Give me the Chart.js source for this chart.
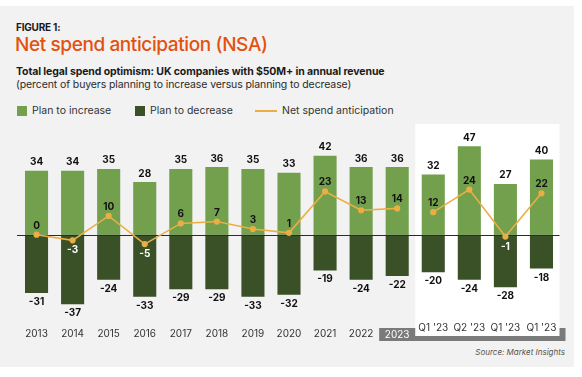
<!DOCTYPE html>
<html>
<head>
<meta charset="utf-8">
<script src="https://cdn.jsdelivr.net/npm/chart.js@4.4.1/dist/chart.umd.min.js"></script>
<style>
  html, body { margin:0; padding:0; background:#fff; }
  body { width:582px; height:377px; position:relative; overflow:hidden; font-family: Inter, "Noto Sans", sans-serif; }
  .panel { position:absolute; left:0; top:6px; width:574px; height:361px; background:#f2f2f2; }
  .fig { position:absolute; left:16px; top:21px; font-size:10px; font-weight:700; color:#1a1a1a; letter-spacing:-0.2px; }
  .title { position:absolute; left:15px; top:33px; font-size:19px; font-weight:500; color:#e2520f; letter-spacing:-0.4px; }
  .sub1 { position:absolute; left:16px; top:65px; font-size:10.5px; font-weight:700; color:#1a1a1a; letter-spacing:-0.1px; }
  .sub2 { position:absolute; left:16px; top:78px; font-size:10.5px; color:#2a2a2a; letter-spacing:-0.1px; }
  .leg { position:absolute; top:104px; font-size:10.5px; color:#333; display:flex; align-items:center; }
  .sw { width:10px; height:10px; margin-right:5px; }
  .ln { width:22px; height:2px; background:#ebae45; margin-right:5px; }
  .src { position:absolute; right:17px; top:347px; font-size:8px; font-style:italic; color:#555; }
  canvas { position:absolute; left:0; top:0; }
</style>
</head>
<body>
<div class="panel"></div>
<div class="fig">FIGURE 1:</div>
<div class="title">Net spend anticipation (NSA)</div>
<div class="sub1">Total legal spend optimism: UK companies with $50M+ in annual revenue</div>
<div class="sub2">(percent of buyers planning to increase versus planning to decrease)</div>
<div class="leg" style="left:17px"><div class="sw" style="background:#72a04d"></div>Plan to increase</div>
<div class="leg" style="left:135px"><div class="sw" style="background:#3a5128"></div>Plan to decrease</div>
<div class="leg" style="left:255px"><div class="ln"></div>Net spend anticipation</div>
<div class="src">Source: Market Insights</div>
<canvas id="c" width="582" height="377"></canvas>
<script>
const labels = ['2013','2014','2015','2016','2017','2018','2019','2020','2021','2022','2023',"Q1 '23","Q2 '23","Q1 '23","Q1 '23"];
const increase = [34,34,35,28,35,36,35,33,42,36,36,32,47,27,40];
const decrease = [-31,-37,-24,-33,-29,-29,-33,-32,-19,-24,-22,-20,-24,-28,-18];
const netSpend = [0,-3,10,-5,6,7,3,1,23,13,14,12,24,-1,22];

const GREEN = '#72a04d', DARK = '#3a5128', ORANGE = '#ebae45';
const FIRST_Q = 11; // index where quarterly series starts

const decor = {
  id:'decor',
  beforeDatasetsDraw(chart){
    const {ctx, chartArea, scales:{x}} = chart;
    const step = x.getPixelForValue(1) - x.getPixelForValue(0);
    const left23 = x.getPixelForValue(10) - step/2;
    const leftQ = x.getPixelForValue(FIRST_Q) - step/2;
    ctx.save();
    ctx.fillStyle = '#7a7a7a';
    ctx.fillRect(left23, 328, chartArea.right + 6 - left23, 13);
    ctx.fillStyle = '#ffffff';
    ctx.fillRect(leftQ, 124, chartArea.right - leftQ, 212);
    ctx.restore();
  },
  afterDatasetDraw(chart, args){
    if (args.index !== 1) return;
    const {ctx, chartArea, scales:{y}} = chart;
    const y0 = Math.round(y.getPixelForValue(0)) + 0.5;
    ctx.save();
    ctx.strokeStyle = '#2b2b2b';
    ctx.lineWidth = 1;
    ctx.beginPath();
    ctx.moveTo(17, y0);
    ctx.lineTo(chartArea.right, y0);
    ctx.stroke();
    ctx.restore();
  },
  afterDraw(chart){
    const {ctx, scales:{x, y}} = chart;
    ctx.save();
    ctx.textAlign = 'center';
    ctx.textBaseline = 'middle';
    ctx.font = 'bold 10px Inter, sans-serif';
    labels.forEach((lab, i) => {
      const px = x.getPixelForValue(i);
      ctx.fillStyle = '#111';
      ctx.fillText(String(increase[i]), px, y.getPixelForValue(increase[i]) - 8.5);
      ctx.fillText(String(decrease[i]), px, y.getPixelForValue(decrease[i]) + 9);
      const ny = y.getPixelForValue(netSpend[i]);
      if (netSpend[i] < 0) {
        ctx.fillStyle = '#ffffff';
        ctx.fillText(String(netSpend[i]), px, ny + 10);
      } else {
        ctx.fillStyle = '#111';
        ctx.fillText(String(netSpend[i]), px, ny - 9);
      }
    });
    ctx.font = '10px Inter, sans-serif';
    labels.forEach((lab, i) => {
      const px = x.getPixelForValue(i);
      if (i === 10) { ctx.fillStyle = '#ffffff'; ctx.fillText(lab, px, 334.5); }
      else if (i >= FIRST_Q) { ctx.fillStyle = '#333'; ctx.fillText(lab, px, 327.5); }
      else { ctx.fillStyle = '#333'; ctx.fillText(lab, px, 334); }
    });
    ctx.restore();
  }
};

new Chart(document.getElementById('c'), {
  type:'bar',
  data:{ labels, datasets:[
    {type:'line', label:'Net spend anticipation', data:netSpend, borderColor:ORANGE, backgroundColor:ORANGE,
     borderWidth:1.6, pointRadius:2.3, pointHoverRadius:2.3, tension:0, order:0,
     segment:{ borderColor: c => c.p0DataIndex === FIRST_Q - 1 ? 'transparent' : ORANGE }},
    {label:'Plan to decrease', data:decrease, backgroundColor:DARK, stack:'s', order:1},
    {label:'Plan to increase', data:increase, backgroundColor:GREEN, stack:'s', order:1},
  ]},
  options:{
    responsive:false, animation:false, events:[],
    layout:{ padding:{ left:18.5, right:22.5, top:131.3, bottom:57.7 } },
    datasets:{ bar:{ categoryPercentage:1, barPercentage:0.64 } },
    plugins:{ legend:{display:false}, tooltip:{enabled:false} },
    scales:{
      x:{ display:false, stacked:true },
      y:{ display:false, stacked:true, min:-45, max:55 }
    }
  },
  plugins:[decor]
});
</script>
</body>
</html>
